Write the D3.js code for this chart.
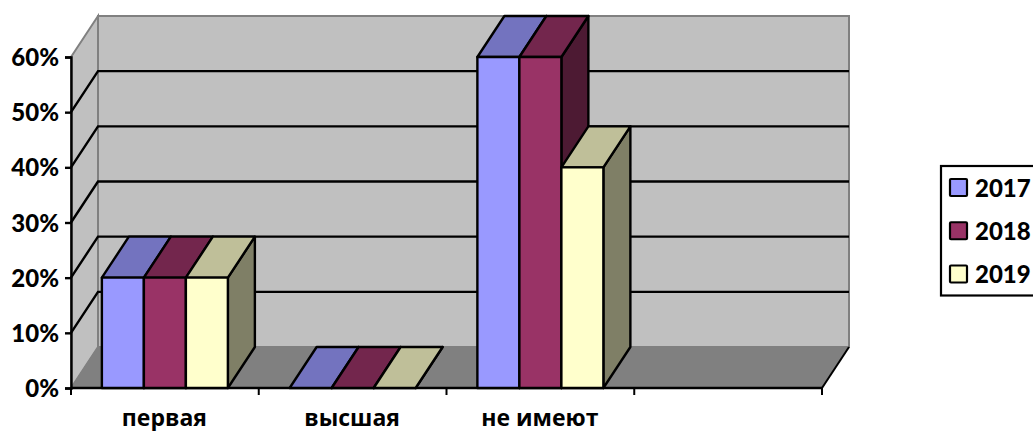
<!DOCTYPE html>
<html><head><meta charset="utf-8">
<script src="https://cdnjs.cloudflare.com/ajax/libs/d3/7.8.5/d3.min.js"></script>
<style>html,body{margin:0;padding:0;background:#fff;overflow:hidden}svg{display:block}
text{font-family:"Open Sans","Noto Sans",sans-serif;font-weight:700;fill:#000}
.num{font-family:Lato,"Open Sans",sans-serif !important;font-weight:900}</style>
</head><body><div id="c"></div>
<script>
const categories = ["первая", "высшая", "не имеют", ""];
const seriesNames = ["2017", "2018", "2019"];
const v2017 = [0.2, 0, 0.6, null];
const v2018 = [0.2, 0, 0.6, null];
const v2019 = [0.2, 0, 0.4, null];
const tickValues = [0, 0.1, 0.2, 0.3, 0.4, 0.5, 0.6];
const faceColors = ["#9999ff", "#993366", "#ffffcc"];
const topColors = ["#7373bf", "#73264d", "#bfbf99"];
const sideColors = ["#5c5c99", "#4d1a33", "#7f7f66"];

const W = 1033, H = 431, dx = 27, dy = -41;
const svg = d3.select("#c").append("svg").attr("width", W).attr("height", H);
const y = d3.scaleLinear().domain([0, 0.6]).range([388, 57]);
const x0 = d3.scaleBand().domain(d3.range(categories.length)).range([71, 822]).paddingInner(0).paddingOuter(0);
const seriesVals = [v2017, v2018, v2019];
const barW = 42;
const groupW = barW * seriesNames.length;
const barX = (c, s) => x0(c) + (x0.bandwidth() - groupW) / 2 + s * barW;
const L = x0.range()[0], R = x0.range()[1];
const poly = pts => pts.map(p => p.join(",")).join(" ");

// walls and floor
svg.append("polygon").attr("points", poly([[L + dx, y(0.6) + dy], [R + dx, y(0.6) + dy], [R + dx, y(0) + dy], [L + dx, y(0) + dy]]))
  .attr("fill", "#c0c0c0").attr("stroke", "#808080").attr("stroke-width", 2);
svg.append("polygon").attr("points", poly([[L, y(0.6)], [L + dx, y(0.6) + dy], [L + dx, y(0) + dy], [L, y(0)]]))
  .attr("fill", "#c0c0c0").attr("stroke", "#808080").attr("stroke-width", 2);
svg.append("polygon").attr("points", poly([[L, y(0)], [L + dx, y(0) + dy], [R + dx, y(0) + dy], [R, y(0)]]))
  .attr("fill", "#808080").attr("stroke", "#808080").attr("stroke-width", 1);

// gridlines
tickValues.filter(t => t > 0 && t < 0.6).forEach(t => {
  svg.append("path").attr("fill", "none").attr("stroke", "#000").attr("stroke-width", 2.4)
    .attr("d", `M${L},${y(t)}L${L + dx},${y(t) + dy}L${R + dx},${y(t) + dy}`);
});

// axes
const yAxis = svg.append("g").attr("transform", `translate(${L},0)`)
  .call(d3.axisLeft(y).tickValues(tickValues).tickFormat(d3.format(".0%")).tickSize(6).tickPadding(6));
yAxis.selectAll("line,path").attr("stroke", "#000").attr("stroke-width", 2.4);
yAxis.selectAll("text").attr("class", "num").attr("font-size", 24).attr("dy", "0.36em");

const xTicks = d3.range(categories.length + 1).map(i => L + i * x0.bandwidth());
svg.append("path").attr("stroke", "#000").attr("stroke-width", 2.4).attr("fill", "none").attr("d", `M${L},${y(0)}L${R},${y(0)}`);
svg.append("g").selectAll("line").data(xTicks).join("line")
  .attr("x1", d => d).attr("x2", d => d).attr("y1", y(0)).attr("y2", y(0) + 7).attr("stroke", "#000").attr("stroke-width", 2);
svg.append("path").attr("stroke", "#000").attr("stroke-width", 2).attr("fill", "none").attr("d", `M${R},${y(0)}L${R + dx},${y(0) + dy}`);

svg.append("g").selectAll("text").data(categories).join("text")
  .attr("x", (d, i) => x0(i) + x0.bandwidth() / 2 - 0.5).attr("y", 425.5).attr("text-anchor", "middle")
  .attr("font-size", 23).text(d => d);

// bars
const bars = svg.append("g").attr("stroke", "#000").attr("stroke-width", 2.4).attr("stroke-linejoin", "round");
categories.forEach((c, ci) => {
  seriesNames.forEach((s, si) => {
    const val = seriesVals[si][ci];
    if (val === null) return;
    const xa = barX(ci, si), xb = xa + barW, yt = y(val), yb = y(0);
    bars.append("polygon").attr("fill", sideColors[si])
      .attr("points", poly([[xb, yt], [xb + dx, yt + dy], [xb + dx, yb + dy], [xb, yb]]));
    bars.append("polygon").attr("fill", topColors[si])
      .attr("points", poly([[xa, yt], [xa + dx, yt + dy], [xb + dx, yt + dy], [xb, yt]]));
    bars.append("rect").attr("fill", faceColors[si]).attr("x", xa).attr("y", yt).attr("width", barW).attr("height", yb - yt);
  });
});

// legend
const lg = svg.append("g");
lg.append("rect").attr("x", 941).attr("y", 166).attr("width", 110).attr("height", 129.5).attr("fill", "#fff").attr("stroke", "#000").attr("stroke-width", 2.2);
const ly = d3.scalePoint().domain(seriesNames).range([188, 274.5]);
seriesNames.forEach((s, i) => {
  lg.append("rect").attr("x", 950).attr("y", ly(s) - 9).attr("width", 17).attr("height", 17)
    .attr("fill", faceColors[i]).attr("stroke", "#000").attr("stroke-width", 2.2).attr("rx", 1);
  lg.append("text").attr("class", "num").attr("x", 975).attr("y", ly(s)).attr("dy", "0.36em").attr("font-size", 24).text(s);
});
</script></body></html>
